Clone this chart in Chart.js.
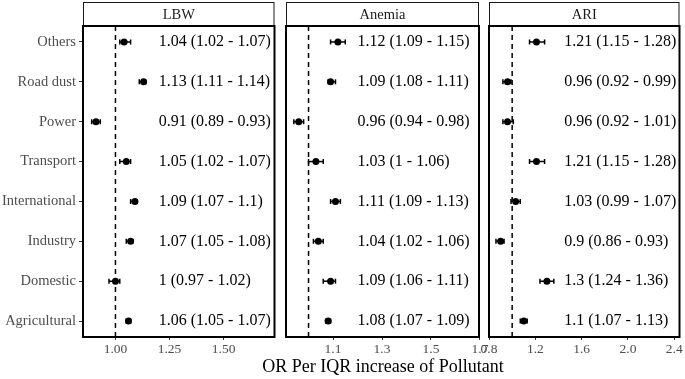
<!DOCTYPE html>
<html>
<head>
<meta charset="utf-8">
<script src="https://cdn.jsdelivr.net/npm/chart.js@4.4.0/dist/chart.umd.min.js"></script>
<style>
  html, body { margin: 0; padding: 0; background: #fff; }
  #wrap { position: relative; width: 685px; height: 379px; overflow: hidden; }
  #wrap canvas { position: absolute; top: 0; }
  #xtitle {
    position: absolute; left: 183px; width: 400px; top: 356px;
    text-align: center; font: 18px/20px "Liberation Serif", "Times New Roman", serif; color: #000;
  }
</style>
</head>
<body>
<div id="wrap">
  <canvas id="c_lbw" width="280" height="379" style="left:0px"></canvas>
  <canvas id="c_anemia" width="225" height="379" style="left:270px"></canvas>
  <canvas id="c_ari" width="211" height="379" style="left:474px"></canvas>
  <div id="xtitle">OR Per IQR increase of Pollutant</div>
</div>
<script>
// sources, top to bottom
const sources = ['Others', 'Road dust', 'Power', 'Transport', 'International', 'Industry', 'Domestic', 'Agricultural'];
const outcomes = ['LBW', 'Anemia', 'ARI'];

// odds ratios with 95% CI
const lbwOR = [1.04, 1.13, 0.91, 1.05, 1.09, 1.07, 1, 1.06];
const lbwLo = [1.02, 1.11, 0.89, 1.02, 1.07, 1.05, 0.97, 1.05];
const lbwHi = [1.07, 1.14, 0.93, 1.07, 1.1, 1.08, 1.02, 1.07];

const anemiaOR = [1.12, 1.09, 0.96, 1.03, 1.11, 1.04, 1.09, 1.08];
const anemiaLo = [1.09, 1.08, 0.94, 1, 1.09, 1.02, 1.06, 1.07];
const anemiaHi = [1.15, 1.11, 0.98, 1.06, 1.13, 1.06, 1.11, 1.09];

const ariOR = [1.21, 0.96, 0.96, 1.21, 1.03, 0.9, 1.3, 1.1];
const ariLo = [1.15, 0.92, 0.92, 1.15, 0.99, 0.86, 1.24, 1.07];
const ariHi = [1.28, 0.99, 1.01, 1.28, 1.07, 0.93, 1.36, 1.13];

// x tick labels per panel
const lbwTicks = ['1.00', '1.25', '1.50'];
const anemiaTicks = ['1.1', '1.3', '1.5', '1.7'];
const ariTicks = ['0.8', '1.2', '1.6', '2.0', '2.4'];

const refOR = 1;

const FONT = '"Liberation Serif", "Times New Roman", serif';

const framePlugin = {
  id: 'frame',
  afterDraw(chart) {
    const ctx = chart.ctx, a = chart.chartArea, t = chart.titleBlock;
    ctx.save();
    ctx.strokeStyle = '#1a1a1a';
    ctx.lineWidth = 1;
    ctx.strokeRect(a.left + 0.5, t.top + 0.5, a.right - a.left - 1, t.bottom - t.top);
    ctx.strokeStyle = '#000';
    ctx.lineWidth = 2;
    ctx.strokeRect(a.left, a.top, a.right - a.left, a.bottom - a.top);
    ctx.restore();
  }
};

function makePanel(id, outcome, or, lo, hi, ticks, p) {
  const datasets = [];
  datasets.push({
    type: 'scatter',
    data: or.map((v, i) => ({ x: v, y: i + 1 })),
    pointRadius: 3.5,
    pointBackgroundColor: '#000',
    pointBorderWidth: 0
  });
  for (let i = 0; i < sources.length; i++) {
    datasets.push({
      type: 'line',
      data: [{ x: lo[i], y: i + 1 }, { x: hi[i], y: i + 1 }],
      borderColor: '#000',
      borderWidth: 1.5,
      pointStyle: 'line',
      pointRotation: 90,
      pointRadius: 2.5,
      pointBorderWidth: 1.5,
      pointBorderColor: '#000'
    });
  }
  datasets.push({
    type: 'line',
    data: [{ x: refOR, y: 0.6 }, { x: refOR, y: 8.4 }],
    borderColor: '#000',
    borderWidth: 1.5,
    borderDash: [5, 4],
    pointRadius: 0
  });

  const labelPlugin = {
    id: 'orLabels',
    afterDatasetsDraw(chart) {
      const ctx = chart.ctx, xs = chart.scales.x, ys = chart.scales.y;
      ctx.save();
      ctx.font = '16px ' + FONT;
      ctx.fillStyle = '#000';
      ctx.textAlign = 'left';
      ctx.textBaseline = 'middle';
      or.forEach((v, i) => {
        ctx.fillText(v + ' (' + lo[i] + ' - ' + hi[i] + ')', xs.getPixelForValue(p.labelX), ys.getPixelForValue(i + 1));
      });
      ctx.restore();
    }
  };

  return new Chart(document.getElementById(id), {
    type: 'scatter',
    data: { datasets: datasets },
    options: {
      responsive: false,
      animation: false,
      events: [],
      layout: { padding: { top: 2, left: p.padLeft, right: p.padRight, bottom: 0 } },
      plugins: {
        legend: { display: false },
        tooltip: { enabled: false },
        title: {
          display: true,
          text: outcome,
          fullSize: false,
          color: '#1a1a1a',
          font: { family: FONT, size: 14.5, weight: 'normal', lineHeight: 1.2 },
          padding: { top: 4, bottom: 2.6 }
        }
      },
      scales: {
        x: {
          type: 'linear',
          min: p.min,
          max: p.max,
          afterBuildTicks: s => { s.ticks = ticks.map(t => ({ value: Number(t) })); },
          afterFit: s => { s.height = 42; s.paddingLeft = 0; s.paddingRight = 0; },
          ticks: {
            callback: (v, i) => ticks[i],
            color: '#4d4d4d',
            font: { family: FONT, size: 13.5 },
            padding: 1,
            maxRotation: 0,
            autoSkip: false
          },
          grid: { drawOnChartArea: false, drawTicks: true, tickLength: 3, color: '#333' },
          border: { display: false }
        },
        y: {
          type: 'linear',
          reverse: true,
          min: 0.6,
          max: 8.4,
          display: p.showY,
          afterBuildTicks: s => { s.ticks = sources.map((_, i) => ({ value: i + 1 })); },
          afterFit: s => { s.width = p.showY ? 83 : 0; s.paddingTop = 0; s.paddingBottom = 0; },
          ticks: {
            callback: v => sources[v - 1],
            color: '#4d4d4d',
            font: { family: FONT, size: 14.5 },
            padding: 3,
            autoSkip: false
          },
          grid: { drawOnChartArea: false, drawTicks: true, tickLength: 4, color: '#333' },
          border: { display: false }
        }
      }
    },
    plugins: [framePlugin, labelPlugin]
  });
}

makePanel('c_lbw', outcomes[0], lbwOR, lbwLo, lbwHi, lbwTicks,
  { min: 0.85, max: 1.735, labelX: 1.2, padLeft: 0, padRight: 4, showY: true });
makePanel('c_anemia', outcomes[1], anemiaOR, anemiaLo, anemiaHi, anemiaTicks,
  { min: 0.908, max: 1.696, labelX: 1.2, padLeft: 16, padRight: 16, showY: false });
makePanel('c_ari', outcomes[2], ariOR, ariLo, ariHi, ariTicks,
  { min: 0.8, max: 2.445, labelX: 1.45, padLeft: 15, padRight: 2, showY: false });
</script>
</body>
</html>
